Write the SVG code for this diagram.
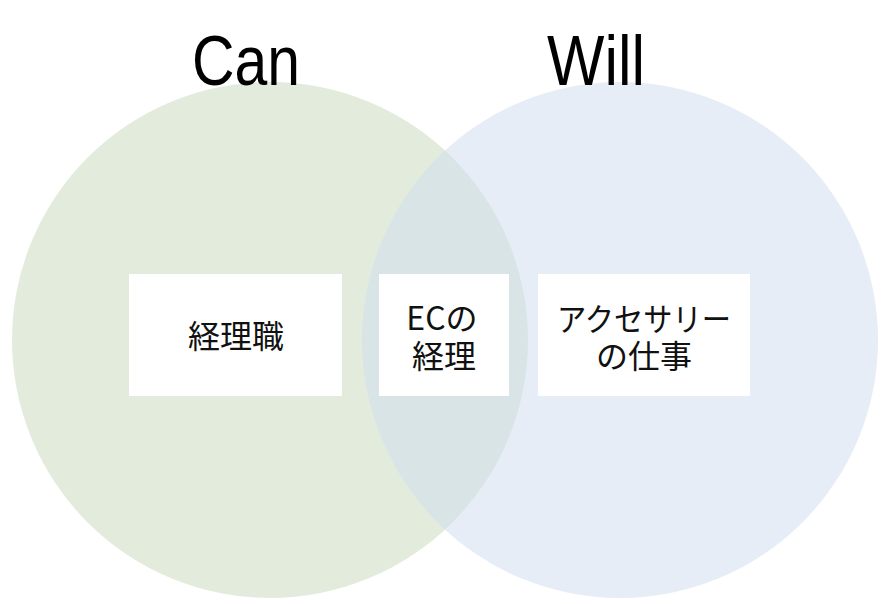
<svg xmlns="http://www.w3.org/2000/svg" width="886" height="604" viewBox="0 0 886 604">
<style>
.head{font-family:"Liberation Sans",Arial,sans-serif;font-size:70px;fill:#000;text-anchor:middle}
.lbl{font-family:"Noto Sans CJK JP","Noto Sans",sans-serif;font-size:32px;fill:#111;text-anchor:middle;dominant-baseline:central}
.box{fill:#fff}
</style>
<rect width="886" height="604" fill="#fff"/>
<g id="can">
<circle cx="270" cy="340" r="258" fill="#e3ecdc"/>
<text class="head" x="246" y="85" textLength="108" lengthAdjust="spacingAndGlyphs">Can</text>
</g>
<g id="will">
<circle cx="620" cy="340" r="258" fill="#d2def0" fill-opacity="0.55"/>
<text class="head" x="596" y="85" textLength="98" lengthAdjust="spacingAndGlyphs">Will</text>
</g>
<g id="node-keiri">
<rect class="box" x="129" y="274" width="213" height="122"/>
<text class="lbl" x="236" y="334">経理職</text>
</g>
<g id="node-ec">
<rect class="box" x="379" y="274" width="130" height="122"/>
<text class="lbl" x="442" y="316">ECの</text>
<text class="lbl" x="444" y="354">経理</text>
</g>
<g id="node-accessory">
<rect class="box" x="538" y="274" width="212" height="122"/>
<text class="lbl" x="644" y="317" textLength="174" lengthAdjust="spacingAndGlyphs">アクセサリー</text>
<text class="lbl" x="644" y="354">の仕事</text>
</g>
<g id="connectors"/>
</svg>
